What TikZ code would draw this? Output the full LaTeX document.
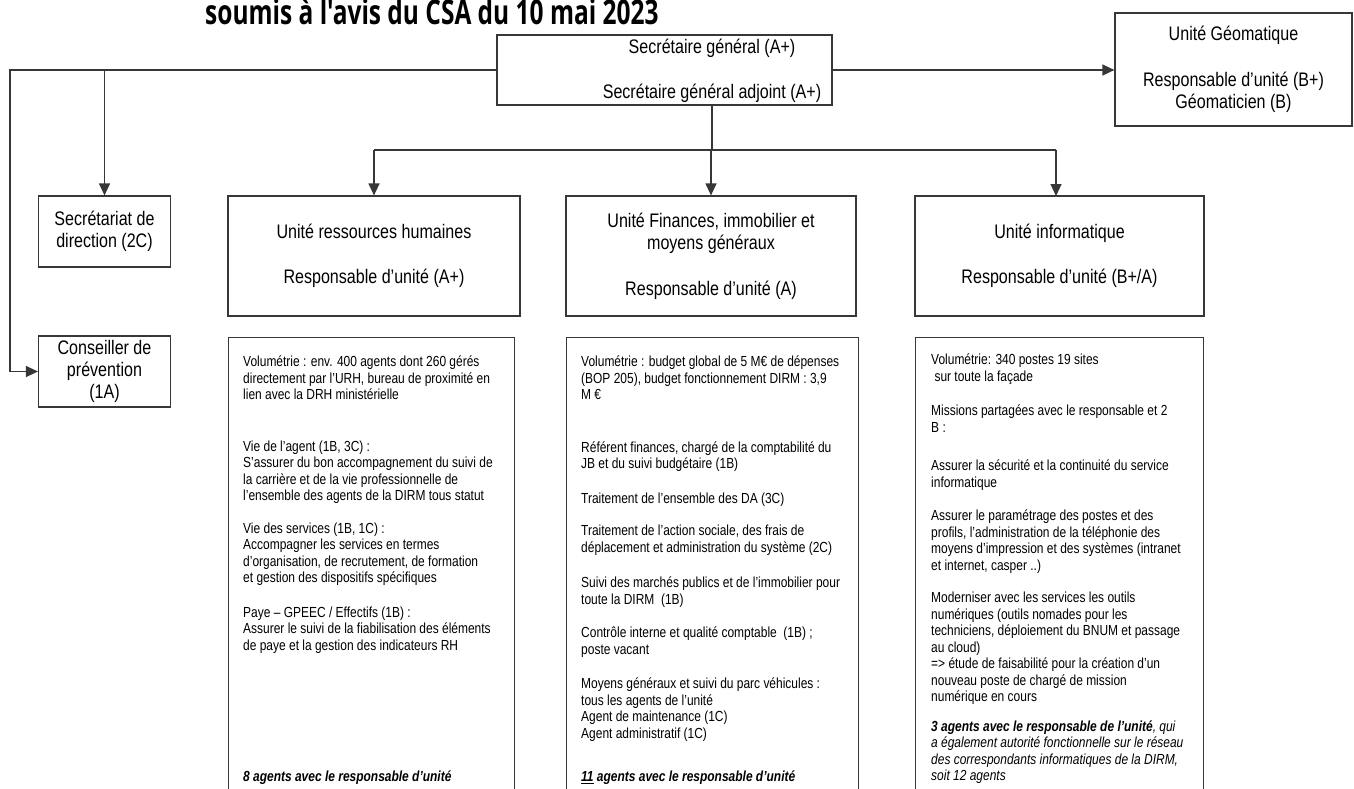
\documentclass[tikz,border=0pt]{standalone}
\usepackage{fontspec}
\setmainfont{Liberation Sans}[FakeStretch=0.82]
\newfontfamily\titlefont{Open Sans}[FakeStretch=0.72]
\usetikzlibrary{arrows.meta}
\newcommand\unitsize{\fontsize{19.6}{22.4}\selectfont}
\newcommand\detsize{\fontsize{14.6}{16.5}\selectfont}
\definecolor{linegray}{RGB}{55,55,55}
\tikzset{
  orgbox/.style={draw=linegray, line width=1.2pt, inner sep=0pt, align=center, font=\unitsize},
  dettext/.style={anchor=north west, inner sep=0pt, align=left, font=\detsize},
  arr/.style={draw=linegray, line width=1.2pt, -{Triangle[length=12pt,width=11pt]}},
  ln/.style={draw=linegray, line width=1.2pt}
}
\begin{document}
\begin{tikzpicture}[x=1pt, y=-1pt]
\useasboundingbox (0,0) rectangle (1354,789);
\fill[white] (0,0) rectangle (1354,789);

\node[anchor=base west, inner sep=0pt, font=\titlefont\bfseries\fontsize{34}{36}\selectfont] (title) at (205,25) {soumis à l'avis du CSA du 10 mai 2023};

% top
\node[orgbox, minimum width=335, minimum height=70] (sg) at (664.5,70) {};
\node[align=center, inner sep=0pt, font=\unitsize] (sgtext) at (712,71) {Secrétaire général (A+)\\[22pt]Secrétaire général adjoint (A+)};
\node[orgbox, minimum width=237, minimum height=113] (geo) at (1233.5,69.5) {Unité Géomatique\\[23pt]Responsable d'unité (B+)\\Géomaticien (B)};

% left side
\node[orgbox, minimum width=132, minimum height=71] (sec) at (104.5,231.5) {Secrétariat de\\direction (2C)};
\node[orgbox, minimum width=132, minimum height=71] (cons) at (104.5,371.5) {Conseiller de\\prévention\\(1A)};

% units
\node[orgbox, minimum width=292, minimum height=120] (rh) at (374,256) {Unité ressources humaines\\[23pt]Responsable d'unité (A+)};
\node[orgbox, minimum width=290, minimum height=120] (fin) at (711,256) {Unité Finances, immobilier et\\moyens généraux\\[23pt]Responsable d'unité (A)};
\node[orgbox, minimum width=289, minimum height=120] (info) at (1059.5,256) {Unité informatique\\[23pt]Responsable d'unité (B+/A)};

% detail boxes
\node[orgbox, anchor=north west, minimum width=286, minimum height=480] (rhdet) at (228,337) {};
\node[orgbox, anchor=north west, minimum width=292, minimum height=480] (findet) at (566,337) {};
\node[orgbox, anchor=north west, minimum width=288, minimum height=480] (infodet) at (915,337) {};

\node[dettext] (rhtxt) at (243,356) {Volumétrie : env. 400 agents dont 260 gérés\\
directement par l'URH, bureau de proximité en\\
lien avec la DRH ministérielle\\[35pt]
Vie de l'agent (1B, 3C) :\\
S'assurer du bon accompagnement du suivi de\\
la carrière et de la vie professionnelle de\\
l'ensemble des agents de la DIRM tous statut\\[16pt]
Vie des services (1B, 1C) :\\
Accompagner les services en termes\\
d'organisation, de recrutement, de formation\\
et gestion des dispositifs spécifiques\\[18pt]
Paye – GPEEC / Effectifs (1B) :\\
Assurer le suivi de la fiabilisation des éléments\\
de paye et la gestion des indicateurs RH\\[115pt]
\textbf{\textit{8 agents avec le responsable d'unité}}};

\node[dettext] (fintxt) at (581,356) {Volumétrie : budget global de 5 M€ de dépenses\\
(BOP 205), budget fonctionnement DIRM : 3,9\\
M €\\[36pt]
Référent finances, chargé de la comptabilité du\\
JB et du suivi budgétaire (1B)\\[18pt]
Traitement de l'ensemble des DA (3C)\\[16pt]
Traitement de l'action sociale, des frais de\\
déplacement et administration du système (2C)\\[19pt]
Suivi des marchés publics et de l'immobilier pour\\
toute la DIRM~~(1B)\\[17pt]
Contrôle interne et qualité comptable~~(1B) ;\\
poste vacant\\[18pt]
Moyens généraux et suivi du parc véhicules :\\
tous les agents de l'unité\\
Agent de maintenance (1C)\\
Agent administratif (1C)\\[27pt]
\textbf{\textit{\underline{11} agents avec le responsable d'unité}}};

\node[dettext] (infotxt) at (931,354) {Volumétrie: 340 postes 19 sites\\
\ sur toute la façade\\[18pt]
Missions partagées avec le responsable et 2\\
B :\\[22pt]
Assurer la sécurité et la continuité du service\\
informatique\\[17pt]
Assurer le paramétrage des postes et des\\
profils, l'administration de la téléphonie des\\
moyens d'impression et des systèmes (intranet\\
et internet, casper ..)\\[16pt]
Moderniser avec les services les outils\\
numériques (outils nomades pour les\\
techniciens, déploiement du BNUM et passage\\
au cloud)\\
=> étude de faisabilité pour la création d'un\\
nouveau poste de chargé de mission\\
numérique en cours\\[13pt]
\textbf{\textit{3 agents avec le responsable de l'unité}}\textit{, qui}\\
\textit{a également autorité fonctionnelle sur le réseau}\\
\textit{des correspondants informatiques de la DIRM,}\\
\textit{soit 12 agents}};

% connectors
\coordinate (lt) at (10,70);
\coordinate (bus) at (711,150);
\draw[arr] (sg.east) -- (geo.west |- sg.east);
\draw[arr] (sg.west) -- (lt) |- (cons.west);
\draw[arr] (sec.north |- sg.west) -- (sec.north);
\draw[ln] (sgtext.center |- sg.south) -- (sgtext.center |- bus);
\draw[ln] (rh.north |- bus) -- (1056,150);
\draw[arr] (rh.north |- bus) -- (rh.north);
\draw[arr] (bus) -- (fin.north);
\draw[arr] (1056,150) -- (1056,196);
\end{tikzpicture}
\end{document}
